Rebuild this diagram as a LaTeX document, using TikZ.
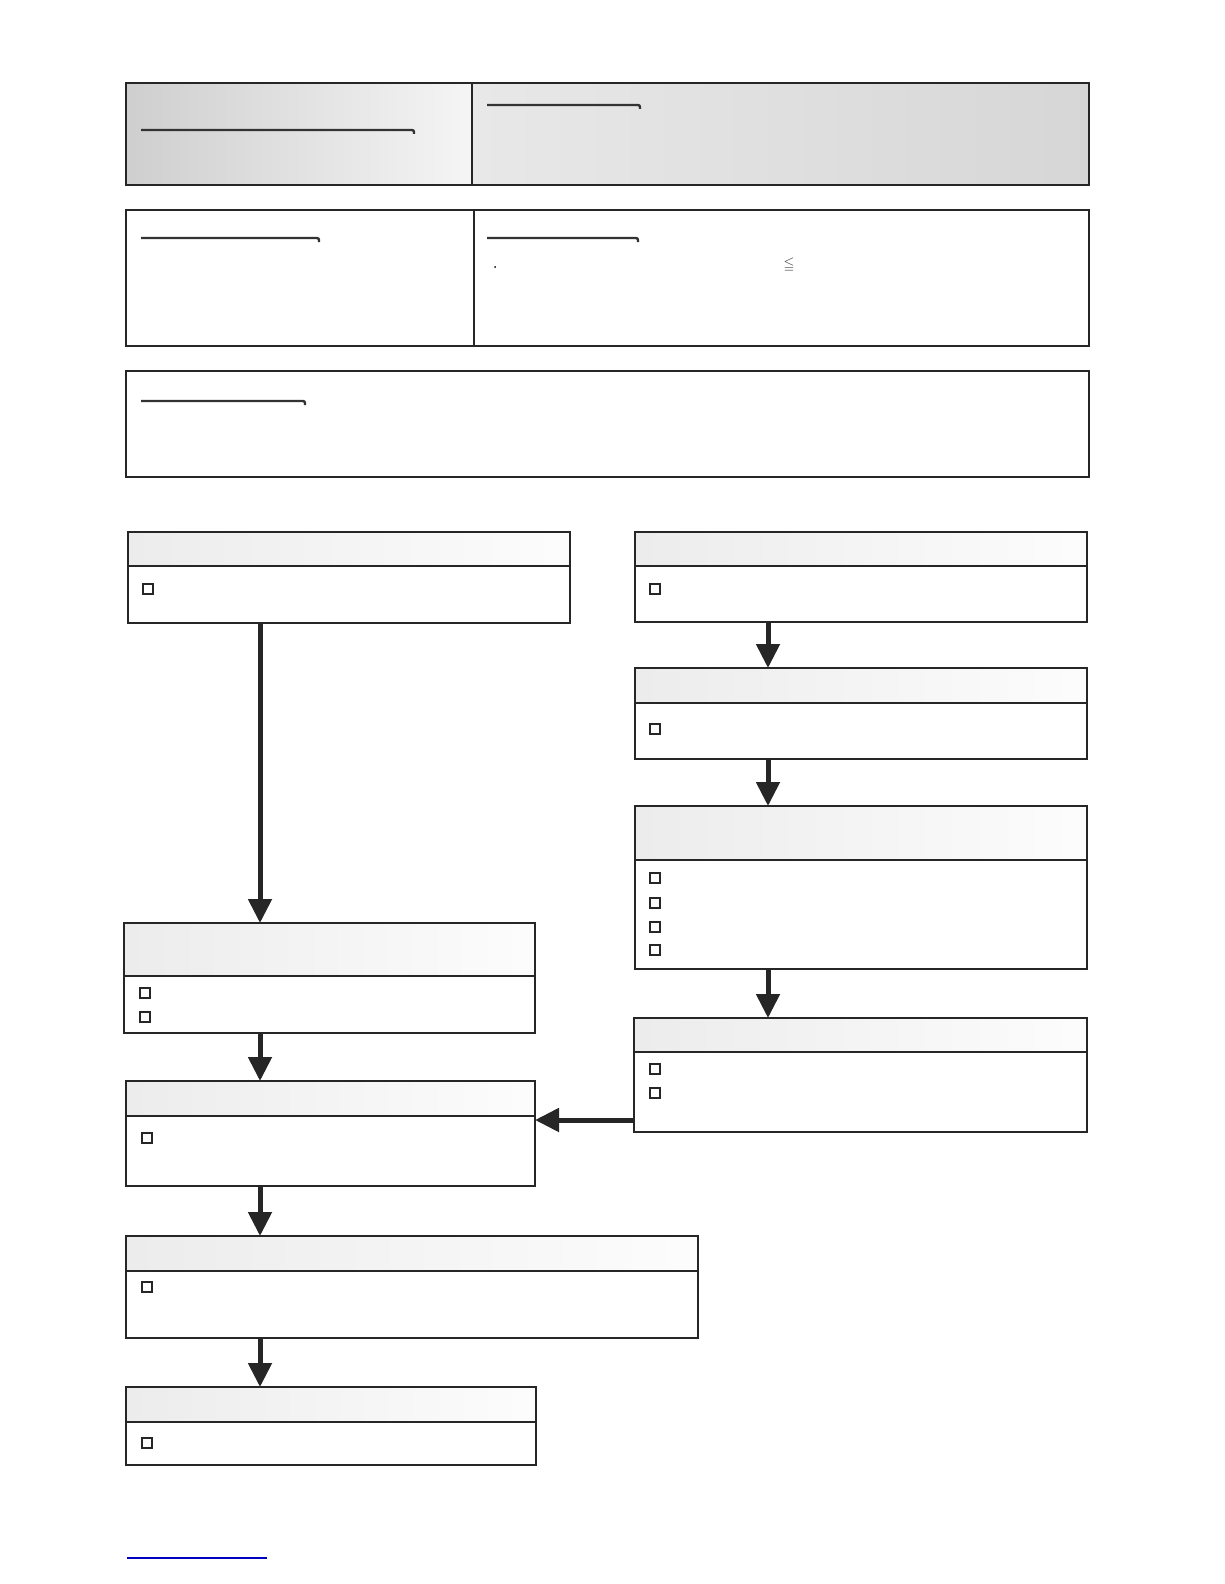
\documentclass[tikz,border=0pt]{standalone}
\usepackage{amssymb}
\usetikzlibrary{arrows.meta, positioning}

\tikzset{
  panel/.style={draw=black!85, line width=1.5pt, anchor=north west, inner sep=0pt, outer sep=0pt},
  toppanel/.style={panel, line width=2.5pt},
  flowbox/.style={draw=black!85, line width=1.6pt, fill=white, anchor=north west, inner sep=0pt, outer sep=0pt},
  headbar/.style={draw=black!85, line width=1.8pt, left color=gray!15, right color=gray!2, anchor=north west, inner sep=0pt, outer sep=0pt},
  checkbox/.style={draw=black!85, line width=2pt, minimum size=10pt, inner sep=0pt, fill=white},
  flow/.style={line width=5pt, draw=black!85, -{Triangle[length=24pt,width=23pt]}},
  titlerule/.style={line width=2.4pt, draw=black!80, rounded corners=2pt},
}

\begin{document}
\begin{tikzpicture}[x=1pt, y=-1pt]
  \useasboundingbox (0,0) rectangle (1224,1584);

  % heading panels
  \node[toppanel, left color=gray!38, right color=gray!8, minimum width=346pt, minimum height=102pt] (titleL) at (126,83) {};
  \node[toppanel, left color=gray!18, middle color=gray!4, right color=gray!32, minimum width=617pt, minimum height=102pt] (titleR) at (472,83) {};
  \draw[titlerule] (141,130) -- (414,130) -- (414,134);
  \draw[titlerule] (487,105) -- (640,105) -- (640,109);

  \node[panel, minimum width=348pt, minimum height=136pt] (infoL) at (126,210) {};
  \node[panel, minimum width=615pt, minimum height=136pt] (infoR) at (474,210) {};
  \draw[titlerule] (141,238) -- (319,238) -- (319,242);
  \draw[titlerule] (487,238) -- (638,238) -- (638,242);
  \fill[black] (495,267) circle (1pt);
  \node[font=\fontsize{14}{16}\selectfont, text=black!80] (leq) at (789,265) {$\leqq$};

  \node[panel, minimum width=963pt, minimum height=106pt] (notes) at (126,371) {};
  \draw[titlerule] (141,401) -- (305,401) -- (305,405);

  % flow boxes
  \node[flowbox, minimum width=442pt, minimum height=91pt] (start) at (128,532) {};
  \node[headbar, minimum width=442pt, minimum height=34pt] at (start.north west) {};
  \node[checkbox] at (148,589) {};

  \node[flowbox, minimum width=452pt, minimum height=90pt] (first) at (635,532) {};
  \node[headbar, minimum width=452pt, minimum height=34pt] at (first.north west) {};
  \node[checkbox] at (655,589) {};

  \node[flowbox, minimum width=452pt, minimum height=91pt] (second) at (635,668) {};
  \node[headbar, minimum width=452pt, minimum height=35pt] at (second.north west) {};
  \node[checkbox] at (655,729) {};

  \node[flowbox, minimum width=452pt, minimum height=163pt] (third) at (635,806) {};
  \node[headbar, minimum width=452pt, minimum height=54pt] at (third.north west) {};
  \foreach \y in {878,903,927,950}
    \node[checkbox] at (655,\y) {};

  \node[flowbox, minimum width=453pt, minimum height=114pt] (fourth) at (634,1018) {};
  \node[headbar, minimum width=453pt, minimum height=34pt] at (fourth.north west) {};
  \foreach \y in {1069,1093}
    \node[checkbox] at (655,\y) {};

  \node[flowbox, minimum width=411pt, minimum height=110pt] (check) at (124,923) {};
  \node[headbar, minimum width=411pt, minimum height=53pt] at (check.north west) {};
  \foreach \y in {993,1017}
    \node[checkbox] at (145,\y) {};

  \node[flowbox, minimum width=409pt, minimum height=105pt] (merge) at (126,1081) {};
  \node[headbar, minimum width=409pt, minimum height=35pt] at (merge.north west) {};
  \node[checkbox] at (147,1138) {};

  \node[flowbox, minimum width=572pt, minimum height=102pt] (apply) at (126,1236) {};
  \node[headbar, minimum width=572pt, minimum height=35pt] at (apply.north west) {};
  \node[checkbox] at (147,1287) {};

  \node[flowbox, minimum width=410pt, minimum height=78pt] (finish) at (126,1387) {};
  \node[headbar, minimum width=410pt, minimum height=35pt] at (finish.north west) {};
  \node[checkbox] at (147,1443) {};

  % connectors
  \coordinate (lane) at (260,0);
  \coordinate (rlane) at (768,0);
  \coordinate (hrow) at (0,1120);
  \draw[flow] (start.south -| lane) -- (check.north -| lane);
  \draw[flow] (first.south -| rlane) -- (second.north -| rlane);
  \draw[flow] (second.south -| rlane) -- (third.north -| rlane);
  \draw[flow] (third.south -| rlane) -- (fourth.north -| rlane);
  \draw[flow] (check.south -| lane) -- (merge.north -| lane);
  \draw[flow] (fourth.west |- hrow) -- (merge.east |- hrow);
  \draw[flow] (merge.south -| lane) -- (apply.north -| lane);
  \draw[flow] (apply.south -| lane) -- (finish.north -| lane);

  \draw[blue!75!black, line width=1.5pt] (127,1558) -- (267,1558);
\end{tikzpicture}
\end{document}
